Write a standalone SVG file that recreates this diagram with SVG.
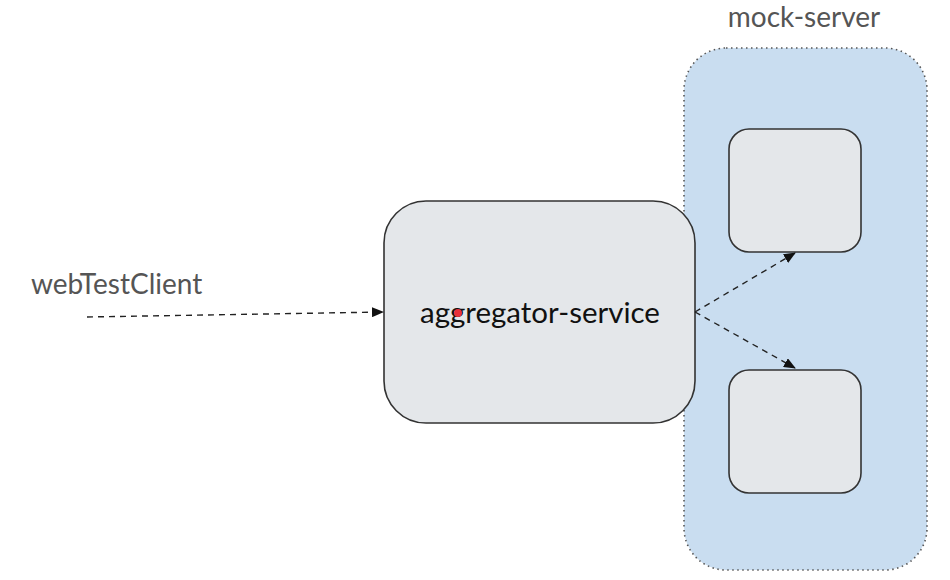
<svg xmlns="http://www.w3.org/2000/svg" width="950" height="580" viewBox="0 0 950 580">
<defs>
<style>
.lbl{font-family:Lato,"Open Sans",sans-serif;font-size:28px;fill:#555}
.main{font-family:Lato,"Open Sans",sans-serif;font-size:29.5px;fill:#111}
.box{fill:#e4e7ea;stroke:#333;stroke-width:1.6}
.conn{stroke:#222;stroke-width:1.4;stroke-dasharray:6,5;fill:none}
</style>
<marker id="ah" markerWidth="12" markerHeight="10" refX="11" refY="5" orient="auto" markerUnits="userSpaceOnUse">
<path d="M0,0 L12,5 L0,10 z" fill="#111"/>
</marker>
</defs>
<rect width="950" height="580" fill="#fff"/>
<g id="mock-server">
<rect x="684" y="48" width="243" height="522" rx="42" fill="#c9ddf0" stroke="#555" stroke-width="1.6" stroke-dasharray="1.5,3.5"/>
<text class="lbl" x="804" y="27" text-anchor="middle">mock-server</text>
</g>
<g id="mock-a"><rect class="box" x="729" y="129" width="132" height="123" rx="20"/></g>
<g id="mock-b"><rect class="box" x="729" y="370" width="132" height="123" rx="20"/></g>
<g id="aggregator-service">
<rect class="box" x="384" y="201" width="311" height="222" rx="42"/>
<text class="main" x="540" y="323" text-anchor="middle">aggregator-service</text>
<circle cx="458" cy="313" r="4" fill="#e8303a"/>
</g>
<g id="webTestClient">
<text class="lbl" x="31" y="294">webTestClient</text>
</g>
<g id="connectors">
<path class="conn" d="M87,317 L383,312" marker-end="url(#ah)"/>
<path class="conn" d="M695,312 L795,253" marker-end="url(#ah)"/>
<path class="conn" d="M695,312 L795,368" marker-end="url(#ah)"/>
</g>
</svg>
